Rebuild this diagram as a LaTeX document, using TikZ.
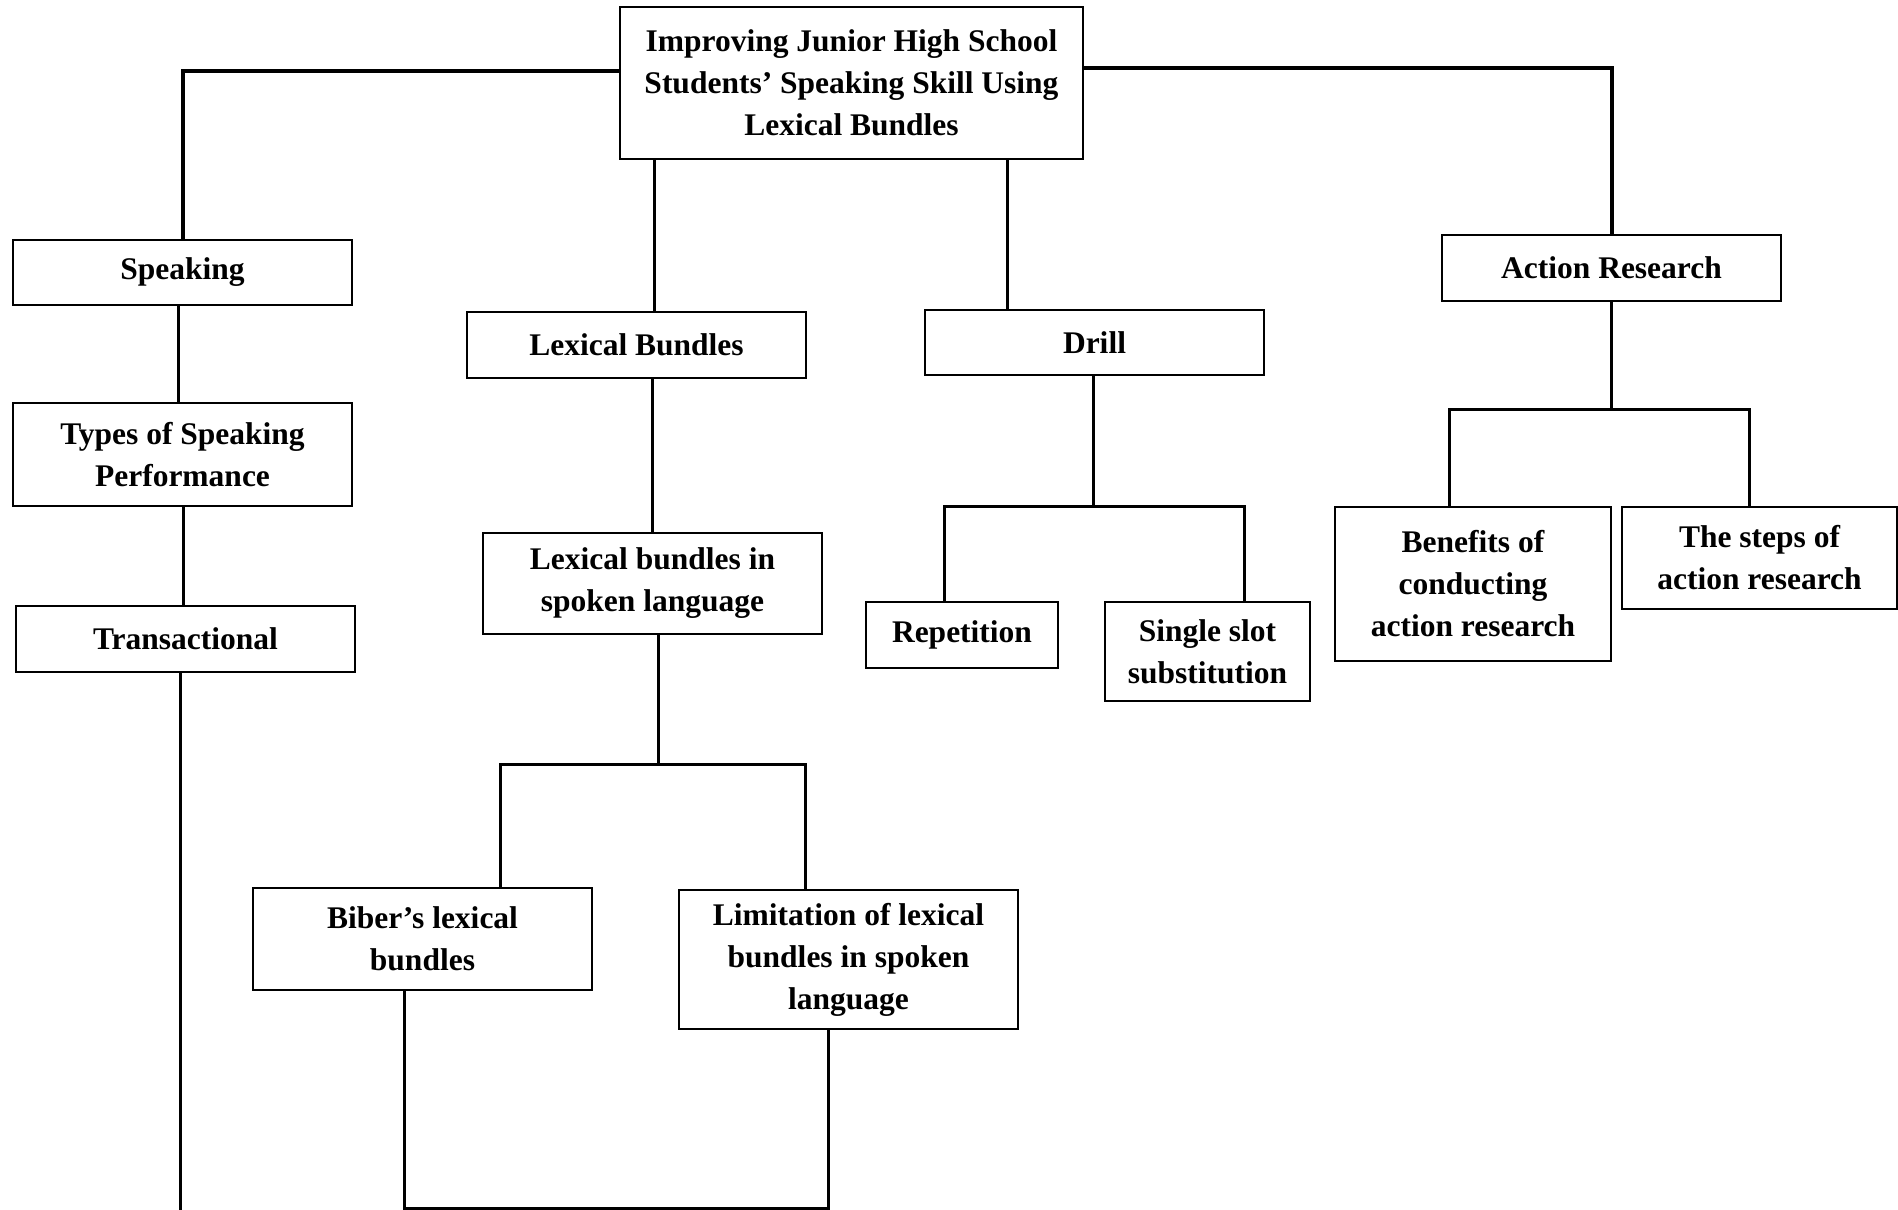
\documentclass[tikz,border=0pt]{standalone}
\usepackage{fontspec}
\setmainfont{Liberation Serif}
\begin{document}
\begin{tikzpicture}[x=1pt,y=-1pt,
  box/.style={draw=black, line width=1.8pt, fill=white, align=center, inner sep=0pt,
    font=\fontsize{31.5}{42}\selectfont\bfseries},
  conn/.style={line width=3pt},
  topconn/.style={line width=4pt}]
\useasboundingbox[fill=white] (0,0) rectangle (1898,1210);
\node[box, minimum width=463pt, minimum height=152pt] (top) at (851.5,83) {Improving Junior High School\\Students’ Speaking Skill Using\\Lexical Bundles};
\node[box, minimum width=339pt, minimum height=65pt] (speak) at (182.5,272.5) {Speaking};
\node[box, minimum width=339pt, minimum height=103pt] (types) at (182.5,454.5) {Types of Speaking\\Performance};
\node[box, minimum width=339pt, minimum height=66pt] (trans) at (185.5,639) {Transactional};
\node[box, minimum width=339pt, minimum height=66pt] (lexb) at (636.5,345) {Lexical Bundles};
\node[box, minimum width=339pt, minimum height=101pt] (lbsl) at (652.5,583.5) {Lexical bundles in\\spoken language};
\node[box, minimum width=339pt, minimum height=102pt] (biber) at (422.5,939) {Biber’s lexical\\bundles};
\node[box, minimum width=339pt, minimum height=139pt] (limit) at (848.5,959.5) {Limitation of lexical\\bundles in spoken\\language};
\node[box, minimum width=339pt, minimum height=65pt] (drill) at (1094.5,342.5) {Drill};
\node[box, minimum width=192pt, minimum height=66pt] (rep) at (962,635) {Repetition};
\node[box, minimum width=205pt, minimum height=99pt] (single) at (1207.5,651.5) {Single slot\\substitution};
\node[box, minimum width=339pt, minimum height=66pt] (action) at (1611.5,268) {Action Research};
\node[box, minimum width=276pt, minimum height=154pt] (benef) at (1473,584) {Benefits of\\conducting\\action research};
\node[box, minimum width=275pt, minimum height=102pt] (steps) at (1759.5,558) {The steps of\\action research};
% junction coordinates
\coordinate (tl) at (654,0);
\coordinate (tr) at (1007,0);
\coordinate (sp) at (178,0);
\coordinate (ty) at (183,0);
\coordinate (b1) at (500,764);
\coordinate (b2) at (805,764);
\coordinate (bm) at (658,764);
\coordinate (c1) at (404,1208);
\coordinate (c2) at (828,1208);
\coordinate (bl) at (180,1210);
\coordinate (d1) at (944,506);
\coordinate (d2) at (1244,506);
\coordinate (dm) at (1093,506);
\coordinate (e1) at (1449,409);
\coordinate (e2) at (1749,409);
% connectors
\draw[topconn] ([yshift=12pt]top.west) -| (speak.north);
\draw[topconn] ([yshift=15pt]top.east) -| (action.north);
\draw[conn] (tl |- top.south) -- (tl |- lexb.north);
\draw[conn] (tr |- top.south) -- (tr |- drill.north);
\draw[conn] (sp |- speak.south) -- (sp |- types.north);
\draw[conn] (ty |- types.south) -- (ty |- trans.north);
\draw[conn] (bl |- trans.south) -- (bl);
\draw[conn] (lbsl.north |- lexb.south) -- (lbsl.north);
\draw[conn] (bm |- lbsl.south) -- (bm);
\draw[conn] (b1 |- biber.north) -- (b1) -- (b2) -- (b2 |- limit.north);
\draw[conn] (c1 |- biber.south) -- (c1) -- (c2) -- (c2 |- limit.south);
\draw[conn] (dm |- drill.south) -- (dm);
\draw[conn] (d1 |- rep.north) -- (d1) -- (d2) -- (d2 |- single.north);
\draw[conn] (action.south) -- (action.south |- e1);
\draw[conn] (e1 |- benef.north) -- (e1) -- (e2) -- (e2 |- steps.north);
\end{tikzpicture}
\end{document}
